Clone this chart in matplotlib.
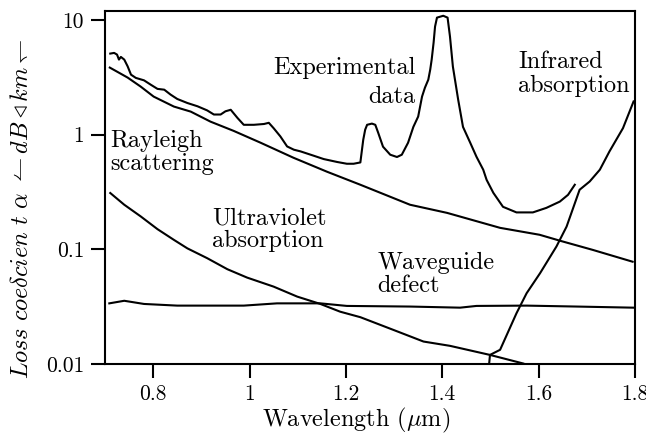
import numpy as np
import matplotlib
matplotlib.use("Agg")
import matplotlib.pyplot as plt

plt.rcParams['font.family'] = 'serif'
plt.rcParams['font.serif'] = ['cmr10']
plt.rcParams['mathtext.fontset'] = 'cm'
plt.rcParams['axes.formatter.use_mathtext'] = True

# wavelength (um) and loss (dB/km)
exp_x = [0.711, 0.719, 0.725, 0.729, 0.733, 0.740, 0.747, 0.754, 0.764, 0.781,
         0.795, 0.809, 0.823, 0.836, 0.850, 0.871, 0.892, 0.912, 0.926, 0.940,
         0.950, 0.961, 0.975, 0.988, 1.009, 1.030, 1.040, 1.050, 1.064, 1.078,
         1.092, 1.106, 1.133, 1.154, 1.182, 1.202, 1.216, 1.230, 1.236, 1.240,
         1.244, 1.254, 1.261, 1.267, 1.277, 1.292, 1.306, 1.316, 1.329, 1.340,
         1.350, 1.354, 1.358, 1.364, 1.371, 1.375, 1.378, 1.382, 1.385, 1.389,
         1.402, 1.411, 1.416, 1.422, 1.433, 1.443, 1.458, 1.471, 1.485, 1.492,
         1.506, 1.526, 1.554, 1.588, 1.616, 1.644, 1.661, 1.675]
exp_y = [5.10, 5.17, 5.00, 4.52, 4.77, 4.52, 3.95, 3.34, 3.13, 2.98,
         2.73, 2.51, 2.47, 2.24, 2.05, 1.89, 1.77, 1.63, 1.50, 1.50,
         1.60, 1.65, 1.40, 1.22, 1.22, 1.24, 1.27, 1.14, 0.966, 0.790,
         0.740, 0.715, 0.656, 0.613, 0.578, 0.558, 0.558, 0.573, 0.904, 1.106,
         1.22, 1.25, 1.22, 1.04, 0.786, 0.669, 0.639, 0.669, 0.851, 1.17,
         1.44, 1.76, 2.15, 2.57, 3.02, 3.70, 4.52, 6.36, 8.77, 10.5,
         10.9, 10.5, 7.18, 3.93, 2.02, 1.17, 0.851, 0.642, 0.495, 0.404,
         0.311, 0.235, 0.210, 0.210, 0.230, 0.261, 0.299, 0.366]

ray_x = [0.710, 0.747, 0.774, 0.801, 0.843, 0.878, 0.919, 0.967, 1.023, 1.091,
         1.161, 1.230, 1.333, 1.410, 1.520, 1.602, 1.644, 1.712, 1.795]
ray_y = [3.85, 3.15, 2.63, 2.15, 1.76, 1.59, 1.30, 1.08, 0.851, 0.630,
         0.475, 0.366, 0.245, 0.208, 0.154, 0.134, 0.119, 0.099, 0.078]

uv_x = [0.711, 0.740, 0.774, 0.809, 0.843, 0.871, 0.912, 0.954, 0.995, 1.050,
        1.099, 1.147, 1.188, 1.230, 1.299, 1.361, 1.416, 1.499, 1.568]
uv_y = [0.310, 0.245, 0.194, 0.150, 0.121, 0.102, 0.0838, 0.0671, 0.0567, 0.0473,
        0.0387, 0.0334, 0.0286, 0.0256, 0.0198, 0.0157, 0.0144, 0.0120, 0.0101]

wg_x = [0.709, 0.740, 0.781, 0.850, 0.988, 1.057, 1.147, 1.202, 1.333, 1.437,
        1.471, 1.575, 1.679, 1.796]
wg_y = [0.0338, 0.0356, 0.0334, 0.0323, 0.0323, 0.0338, 0.0338, 0.0321, 0.0317, 0.0310,
        0.0321, 0.0323, 0.0317, 0.0310]

ir_x = [1.4975, 1.499, 1.520, 1.554, 1.575, 1.603, 1.637, 1.658, 1.685, 1.706,
        1.727, 1.747, 1.775, 1.797]
ir_y = [0.0103, 0.0120, 0.0133, 0.0277, 0.0414, 0.0620, 0.106, 0.158, 0.331, 0.391,
        0.495, 0.715, 1.14, 1.95]

xticks = [0.8, 1.0, 1.2, 1.4, 1.6, 1.8]
xticklabels = ['0.8', '1', '1.2', '1.4', '1.6', '1.8']
yticks = [0.01, 0.1, 1, 10]
yticklabels = ['0.01', '0.1', '1', '10']

fig = plt.figure(figsize=(6.46, 4.34), dpi=100)
ax = fig.add_axes([0.1625, 0.1613, 0.8205, 0.8134])

for xs, ys in [(exp_x, exp_y), (ray_x, ray_y), (uv_x, uv_y), (wg_x, wg_y), (ir_x, ir_y)]:
    ax.plot(xs, ys, color='black', lw=1.5)

ax.set_yscale('log')
ax.set_xlim(0.7, 1.8)
ax.set_ylim(0.01, 12)
ax.set_xticks(xticks)
ax.set_xticklabels(xticklabels)
ax.set_yticks(yticks)
ax.set_yticklabels(yticklabels)
ax.yaxis.set_minor_locator(matplotlib.ticker.NullLocator())
ax.tick_params(direction='out', length=10, width=1.5, labelsize=15.5, pad=5)
for s in ax.spines.values():
    s.set_linewidth(1.5)

ax.set_xlabel(r'Wavelength ($\mu$m)', fontsize=17.5)
ax.xaxis.set_label_coords(0.474, -0.12)
ax.set_ylabel(r'$Loss\ coe\delta cien\ t\ \alpha\ \leftharpoonup dB\triangleleft km\leftharpoondown$',
              fontsize=17.5)
ax.yaxis.set_label_coords(-0.135, 0.44)

# annotations: anchored at the baseline of their last line
fs = 17.5
ax.text(1.344, 1.90, 'Experimental\ndata', ha='right', va='baseline', fontsize=fs,
        multialignment='right', linespacing=1.38)
ax.text(1.557, 2.37, 'Infrared\nabsorption', ha='left', va='baseline', fontsize=fs, linespacing=1.1)
ax.text(0.710, 0.495, 'Rayleigh\nscattering', ha='left', va='baseline', fontsize=fs, linespacing=1.06)
ax.text(0.923, 0.105, 'Ultraviolet\nabsorption', ha='left', va='baseline', fontsize=fs, linespacing=1.03)
ax.text(1.265, 0.0425, 'Waveguide\ndefect', ha='left', va='baseline', fontsize=fs, linespacing=1.03)

plt.savefig('out.png', dpi=100)
